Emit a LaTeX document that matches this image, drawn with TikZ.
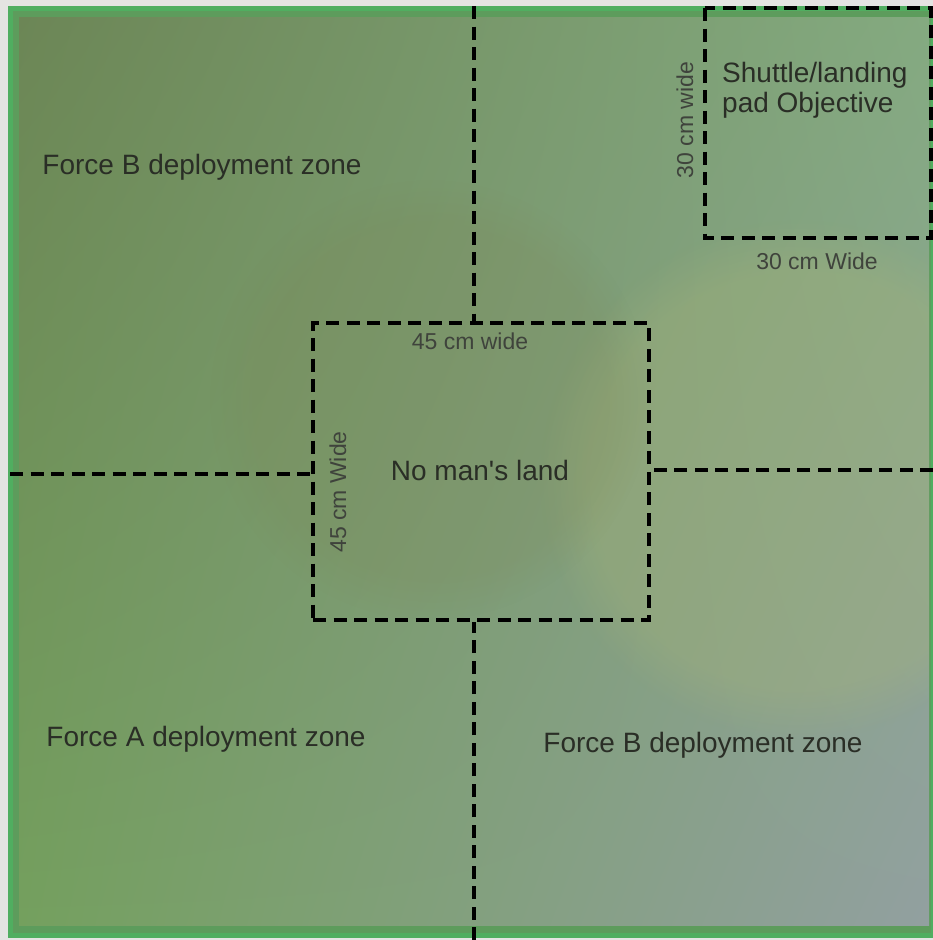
\documentclass[tikz,border=0pt]{standalone}
\usepackage{fontspec}
\setmainfont{Liberation Sans}
\usetikzlibrary{positioning,shadings,fadings}
\definecolor{tablebg}{RGB}{228,228,226}
\definecolor{matedge}{RGB}{80,174,96}
\definecolor{matul}{RGB}{108,134,86}
\definecolor{matur}{RGB}{132,170,128}
\definecolor{matll}{RGB}{116,160,94}
\definecolor{matlr}{RGB}{146,160,160}
\definecolor{matglow}{RGB}{170,182,118}
\definecolor{inkgrey}{RGB}{42,46,38}

\begin{document}
\begin{tikzpicture}[x=1pt,y=-1pt,
  border/.style={dash pattern=on 13pt off 7.5pt,line width=4.5pt,black},
  zonetext/.style={text=inkgrey,font=\fontsize{28}{30}\selectfont,inner sep=0pt},
  sizetext/.style={text=inkgrey!90,font=\fontsize{23}{26}\selectfont,inner sep=0pt}]
\useasboundingbox (0,0) rectangle (933,940);
% table and mat
\fill[tablebg] (0,0) rectangle (933,940);
\fill[matedge] (8,6) rectangle (933,938);
\fill[matedge!55!matul] (13,11) rectangle (931,933);
\begin{scope}
\clip (19,17) rectangle (929,925);
\shade[upper left=matul,upper right=matur,lower left=matll,lower right=matlr]
  (19,17) rectangle (929,925);
\fill[matglow,path fading=circle with fuzzy edge 20 percent,opacity=.3]
  (800,480) circle (260);
\fill[matul!80!brown,path fading=circle with fuzzy edge 20 percent,opacity=.2]
  (430,400) circle (220);
\end{scope}
% no man's land and the objective
\node[border,draw,minimum width=336pt,minimum height=297pt,inner sep=0pt]
  (nml) at (481,471.5) {};
\node[zonetext] (nmltext) at (480,470) {No man\textquotesingle s land};
\coordinate (padtl) at (705,8);
\coordinate (padbr) at (931,238);
\draw[border] (padtl) -- (padtl|-padbr) -- (padbr) -- (padbr|-padtl) -- cycle;
% borders between zones
\coordinate (top) at (474,6);
\coordinate (bottom) at (474,940);
\coordinate (left) at (10,474);
\coordinate (right) at (933,470);
\draw[border] (top) -- (top|-nml.north);
\draw[border] (bottom) -- (bottom|-nml.south);
\draw[border] (left) -- (left-|nml.west);
\draw[border] (right) -- (right-|nml.east);
% labels
\node[zonetext] (fbtop) at (202,167) {Force B deployment zone};
\node[zonetext] (fa) at (206,739) {Force A deployment zone};
\node[zonetext] (fbbot) at (703,745) {Force B deployment zone};
\node[zonetext,align=left,anchor=north west]
  (pad) at (722,62) {Shuttle/landing\\pad Objective};
\node[sizetext,rotate=90] (padside) at (685,120) {30 cm wide};
\node[sizetext] (padbase) at (817,261) {30 cm Wide};
\node[sizetext] (nmltop) at (470,341) {45 cm wide};
\node[sizetext,rotate=90] (nmlside) at (338,492) {45 cm Wide};
\end{tikzpicture}
\end{document}
